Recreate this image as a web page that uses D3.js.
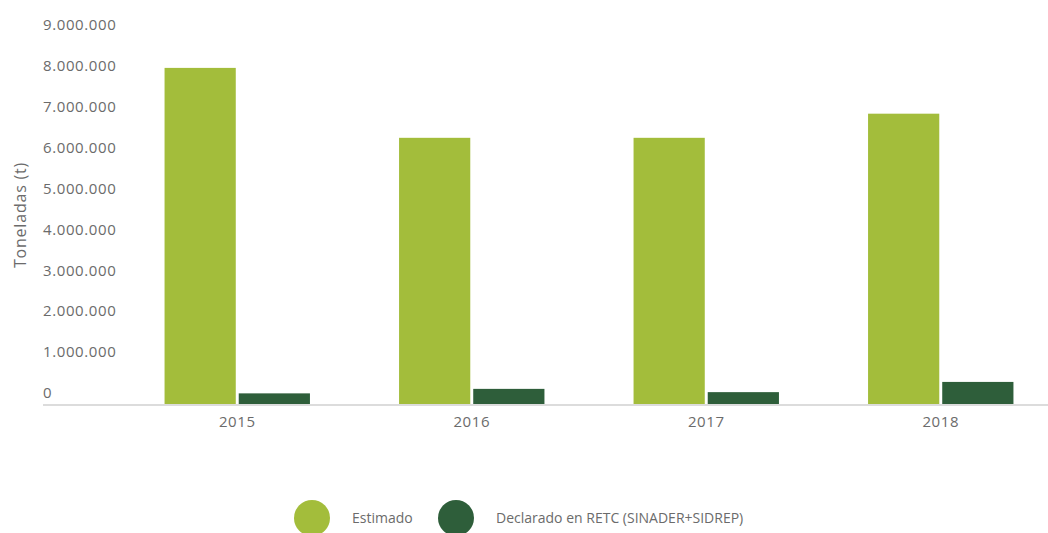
<!DOCTYPE html>
<html>
<head>
<meta charset="utf-8">
<script src="https://cdn.jsdelivr.net/npm/d3@7"></script>
<style>
  body { margin: 0; background: #fff; }
  text { font-family: "Open Sans", sans-serif; fill: #6b6b6b; }
</style>
</head>
<body>
<script>
// data
var years = ["2015", "2016", "2017", "2018"]
var seriesNames = ["Estimado", "Declarado en RETC (SINADER+SIDREP)"]
var estimado = [8220000, 6510000, 6510000, 7100000]
var declarado = [260000, 370000, 290000, 540000]
var yTicks = [0, 1000000, 2000000, 3000000, 4000000, 5000000, 6000000, 7000000, 8000000, 9000000]
var colors = ["#a3bd3b", "#2e5e3a"]

var width = 1048, height = 533

var svg = d3.select("body")
  .append("svg")
  .attr("width", width)
  .attr("height", height)

var y = d3.scaleLinear()
  .domain([0, 9000000])
  .range([404, 36])

var x = d3.scaleBand()
  .domain(years)
  .range([120, 1058])
  .paddingInner(0.38)
  .paddingOuter(0.19)

var xs = d3.scaleBand()
  .domain(seriesNames)
  .range([0, x.bandwidth()])
  .paddingInner(0.04)

var fmt = d3.formatLocale({decimal: ",", thousands: ".", grouping: [3], currency: ["$", ""]}).format(",d")

// y labels (no axis line, labels sit a bit above the value)
svg.append("g")
  .selectAll("text")
  .data(yTicks)
  .join("text")
  .attr("x", 43)
  .attr("y", d => y(d) - 11)
  .attr("dy", "0.35em")
  .attr("font-size", "15px")
  .attr("letter-spacing", "0.6px")
  .text(d => fmt(d))

svg.append("text")
  .attr("transform", "translate(20,215) rotate(-90)")
  .attr("text-anchor", "middle")
  .attr("dy", "0.35em")
  .attr("font-size", "16px")
  .attr("letter-spacing", "0.8px")
  .text("Toneladas (t)")

// bars
var groups = svg.append("g")
  .selectAll("g")
  .data(years)
  .join("g")
  .attr("transform", d => "translate(" + x(d) + ",0)")

groups.selectAll("rect")
  .data((d, i) => [
    {s: seriesNames[0], v: estimado[i], c: colors[0]},
    {s: seriesNames[1], v: declarado[i], c: colors[1]}
  ])
  .join("rect")
  .attr("x", d => xs(d.s))
  .attr("width", xs.bandwidth())
  .attr("y", d => y(d.v))
  .attr("height", d => y(0) - y(d.v))
  .attr("fill", d => d.c)

// x axis
var xAxis = svg.append("g")
  .attr("transform", "translate(0," + (y(0) + 1) + ")")
  .call(d3.axisBottom(x).tickSize(0).tickPadding(11))
xAxis.select(".domain").remove()
xAxis.selectAll("text").attr("font-size", "15px").attr("fill", "#6b6b6b")
  .attr("letter-spacing", "0.6px")
  .style("font-family", "'Open Sans', sans-serif")

svg.append("line")
  .attr("x1", 43).attr("x2", 1048)
  .attr("y1", y(0) + 1).attr("y2", y(0) + 1)
  .attr("stroke", "#dcdcdc")
  .attr("stroke-width", 2)

// legend
var legendX = [312, 456]
var legend = svg.append("g")
  .selectAll("g")
  .data(seriesNames)
  .join("g")
  .attr("transform", (d, i) => "translate(" + legendX[i] + ",518)")

legend.append("circle")
  .attr("r", 18)
  .attr("fill", (d, i) => colors[i])

legend.append("text")
  .attr("x", 40)
  .attr("dy", "0.35em")
  .attr("font-size", "14px")
  .text(d => d)
</script>
</body>
</html>
